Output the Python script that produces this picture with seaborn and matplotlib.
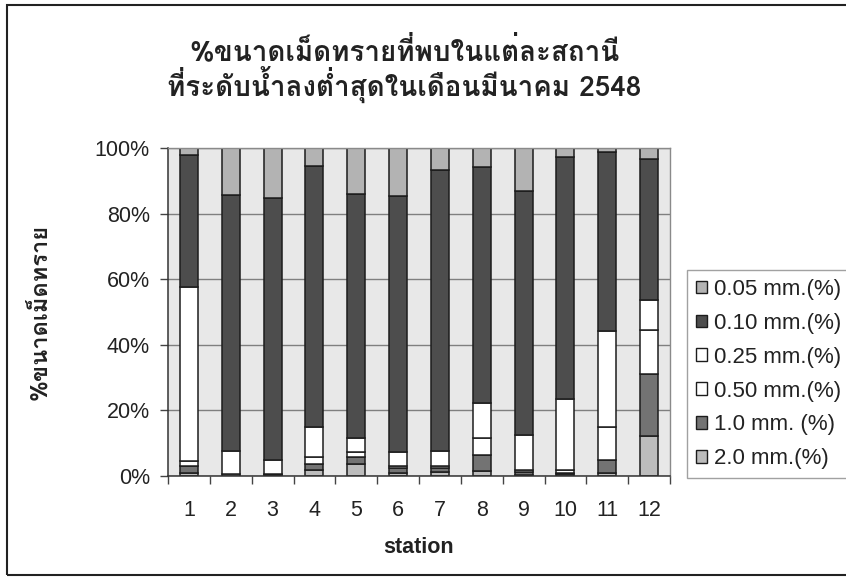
import matplotlib
matplotlib.use("Agg")
import matplotlib.pyplot as plt
from matplotlib import font_manager
from matplotlib.ft2font import FT2Font
from matplotlib.patches import Patch, Rectangle
from matplotlib.ticker import FixedLocator, FuncFormatter
import numpy as np
import pandas as pd
import seaborn as sns

# Stations along the river
stations = list(range(1, 13))

# Grain-size classes (top of each stack first) and their share in % per station
size_labels = ["0.05 mm.(%)", "0.10 mm.(%)", "0.25 mm.(%)",
               "0.50 mm.(%)", "1.0 mm. (%)", "2.0 mm.(%)"]
p005 = [2.0, 14.3, 15.3, 5.5, 14.0, 14.6, 6.7, 5.7, 13.0, 2.8, 1.3, 3.4]
p010 = [40.5, 78.2, 79.7, 79.7, 74.5, 78.2, 85.7, 72.0, 74.5, 73.8, 54.5, 42.9]
p025 = [53.0, 7.0, 4.5, 9.1, 4.1, 4.2, 4.4, 10.7, 10.7, 21.6, 29.2, 9.3]
p050 = [1.5, 0.5, 0.2, 2.0, 1.6, 0.7, 0.8, 5.1, 0.5, 0.8, 10.2, 13.2]
p100 = [2.0, 0.0, 0.3, 1.8, 2.0, 1.3, 1.2, 5.1, 1.0, 0.5, 3.8, 19.0]
p200 = [1.0, 0.0, 0.0, 1.9, 3.8, 1.0, 1.2, 1.4, 0.3, 0.5, 1.0, 12.2]

y_ticks = [0, 20, 40, 60, 80, 100]

title_text = "%ขนาดเม็ดทรายที่พบในแต่ละสถานี\nที่ระดับน้ำลงต่ำสุดในเดือนมีนาคม 2548"
ylabel_text = "%ขนาดเม็ดทราย"
xlabel_text = "station"

size_colors = ["#b3b3b3", "#4d4d4d", "#ffffff", "#ffffff", "#737373", "#bcbcbc"]

# Long table for seaborn
series = [p005, p010, p025, p050, p100, p200]
df = pd.DataFrame({
    "station": np.repeat(stations, len(size_labels)),
    "size": size_labels * len(stations),
    "pct": [series[j][i] for i in range(len(stations)) for j in range(len(size_labels))],
})


def families_covering(ch):
    names = []
    for f in font_manager.fontManager.ttflist:
        try:
            if ord(ch) in FT2Font(f.fname).get_charmap():
                if f.name not in names:
                    names.append(f.name)
        except Exception:
            pass
    return names


thai_fams = families_covering("ข")
latin = "Liberation Sans"

sns.set_theme(style="white")
plt.rcParams["font.family"] = [latin, "DejaVu Sans"]
thai_family = thai_fams[:1] + [latin, "DejaVu Sans"]

W, H = 846, 580
fig = plt.figure(figsize=(W / 100, H / 100), dpi=100)
fig.patch.set_facecolor("white")

left, right, top, bottom = 168, 670, 148, 476
ax = fig.add_axes([left / W, 1 - bottom / H, (right - left) / W, (bottom - top) / H])
ax.set_facecolor("#e8e8e8")

sns.histplot(
    data=df, x="station", weights="pct", hue="size", hue_order=size_labels,
    multiple="stack", discrete=True, shrink=0.43, palette=size_colors,
    alpha=1, edgecolor="#1c1c1c", linewidth=1.1, legend=False, ax=ax,
)

ax.set_xlim(0.5, 12.5)
ax.set_ylim(0, 100)
ax.yaxis.set_major_locator(FixedLocator(y_ticks))
ax.yaxis.set_major_formatter(FuncFormatter(lambda v, p: f"{v:.0f}%"))
ax.grid(axis="y", color="#7f7f7f", linewidth=1)
ax.set_axisbelow(True)

ax.set_xticks(stations)
ax.set_xticklabels([str(s) for s in stations])
ax.set_xticks(np.arange(0.5, 13, 1), minor=True)
ax.tick_params(axis="x", which="major", length=0, pad=17, labelsize=15.5, colors="#222222")
ax.tick_params(axis="x", which="minor", length=6, width=1, color="#444444", direction="out")
ax.tick_params(axis="y", length=6, width=1, color="#444444", direction="out",
               pad=7, labelsize=15.5, labelcolor="#222222")
ax.tick_params(bottom=True, left=True, which="both")

for side in ("left", "bottom"):
    ax.spines[side].set_color("#333333")
    ax.spines[side].set_linewidth(1.1)
for side in ("top", "right"):
    ax.spines[side].set_color("#8a8a8a")
    ax.spines[side].set_linewidth(1)

ax.set_xlabel(xlabel_text, fontsize=15.5, fontweight="bold", color="#222222", labelpad=12)
ax.set_ylabel("")

fig.text(40 / W, 1 - 312 / H, ylabel_text, rotation=90, ha="center", va="center",
         fontsize=17, fontweight="bold", family=thai_family, color="#222222")

fig.text(404 / W, 1 - 70 / H, title_text, ha="center", va="center",
         fontsize=20, fontweight="bold", family=thai_family, color="#222222",
         linespacing=1.05)

handles = [Patch(facecolor=c, edgecolor="#1c1c1c", linewidth=1) for c in size_colors]
leg = fig.legend(
    handles, size_labels, loc="upper left",
    bbox_to_anchor=(687 / W, 1 - 270 / H), borderaxespad=0,
    fontsize=16, frameon=True, fancybox=False, edgecolor="#8a8a8a",
    handlelength=0.5, handleheight=0.5, handletextpad=0.3,
    labelspacing=0.58, borderpad=0.4,
)
leg.get_frame().set_linewidth(1)
for t in leg.get_texts():
    t.set_color("#222222")

fig.add_artist(Rectangle((7 / W, 5 / H), 845 / W, 570 / H, transform=fig.transFigure,
                         fill=False, edgecolor="#222222", linewidth=1.5, clip_on=False))

fig.savefig("out.png", dpi=100, facecolor="white")
